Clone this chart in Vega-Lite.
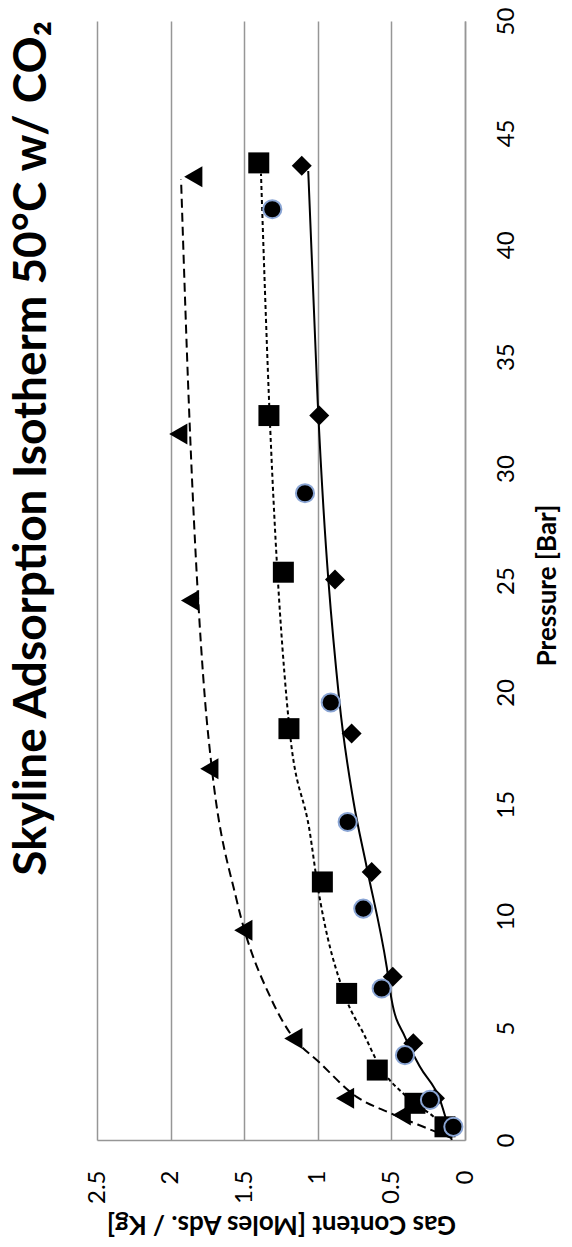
{
  "$schema": "https://vega.github.io/schema/vega-lite/v6.json",
  "width": 368,
  "height": 1119,
  "autosize": {"type": "none"},
  "padding": {"left": 97, "top": 21, "right": 107, "bottom": 107},
  "background": "white",
  "config": {"view": {"stroke": null}, "font": "Lato"},
  "title": {
    "text": "Skyline Adsorption Isotherm 50°C w/ CO₂",
    "orient": "left",
    "anchor": "end",
    "frame": "group",
    "font": "Lato",
    "fontSize": 46,
    "fontWeight": "bold",
    "color": "black",
    "offset": 29
  },
  "datasets": {
    "fit": [
      {"series": "T", "p": 0.09, "g": 0.09},
      {"series": "T", "p": 0.59, "g": 0.283},
      {"series": "T", "p": 1.21, "g": 0.51},
      {"series": "T", "p": 1.93, "g": 0.736},
      {"series": "T", "p": 3.44, "g": 0.985},
      {"series": "T", "p": 4.78, "g": 1.189},
      {"series": "T", "p": 6.25, "g": 1.313},
      {"series": "T", "p": 10.71, "g": 1.551},
      {"series": "T", "p": 16.67, "g": 1.721},
      {"series": "T", "p": 19.64, "g": 1.766},
      {"series": "T", "p": 32.74, "g": 1.875},
      {"series": "T", "p": 42.93, "g": 1.929},
      {"series": "S", "p": 0.09, "g": 0.09},
      {"series": "S", "p": 0.76, "g": 0.17},
      {"series": "S", "p": 1.93, "g": 0.396},
      {"series": "S", "p": 3.27, "g": 0.577},
      {"series": "S", "p": 4.78, "g": 0.691},
      {"series": "S", "p": 6.25, "g": 0.804},
      {"series": "S", "p": 11.61, "g": 1.007},
      {"series": "S", "p": 13.7, "g": 1.053},
      {"series": "S", "p": 18.17, "g": 1.189},
      {"series": "S", "p": 19.64, "g": 1.211},
      {"series": "S", "p": 33.18, "g": 1.332},
      {"series": "S", "p": 43.18, "g": 1.386},
      {"series": "D", "p": 0.0, "g": 0.09},
      {"series": "D", "p": 1.79, "g": 0.17},
      {"series": "D", "p": 3.27, "g": 0.306},
      {"series": "D", "p": 4.61, "g": 0.408},
      {"series": "D", "p": 6.25, "g": 0.498},
      {"series": "D", "p": 7.74, "g": 0.532},
      {"series": "D", "p": 12.2, "g": 0.668},
      {"series": "D", "p": 15.18, "g": 0.759},
      {"series": "D", "p": 19.64, "g": 0.854},
      {"series": "D", "p": 33.04, "g": 1.001},
      {"series": "D", "p": 43.3, "g": 1.065}
    ],
    "obs": [
      {"series": "T", "p": 43.04, "g": 1.846},
      {"series": "T", "p": 31.55, "g": 1.948},
      {"series": "T", "p": 24.11, "g": 1.868},
      {"series": "T", "p": 16.59, "g": 1.737},
      {"series": "T", "p": 9.375, "g": 1.506},
      {"series": "T", "p": 4.54, "g": 1.166},
      {"series": "T", "p": 1.86, "g": 0.815},
      {"series": "T", "p": 1.12, "g": 0.43},
      {"series": "S", "p": 43.66, "g": 1.401},
      {"series": "S", "p": 32.37, "g": 1.332},
      {"series": "S", "p": 25.37, "g": 1.234},
      {"series": "S", "p": 18.38, "g": 1.196},
      {"series": "S", "p": 11.53, "g": 0.969},
      {"series": "S", "p": 6.55, "g": 0.804},
      {"series": "S", "p": 3.125, "g": 0.596},
      {"series": "S", "p": 1.64, "g": 0.34},
      {"series": "S", "p": 0.59, "g": 0.136},
      {"series": "D", "p": 43.53, "g": 1.109},
      {"series": "D", "p": 32.37, "g": 0.99},
      {"series": "D", "p": 25.04, "g": 0.883},
      {"series": "D", "p": 18.16, "g": 0.77},
      {"series": "D", "p": 11.98, "g": 0.634},
      {"series": "D", "p": 7.29, "g": 0.491},
      {"series": "D", "p": 4.32, "g": 0.351},
      {"series": "D", "p": 1.87, "g": 0.204},
      {"series": "D", "p": 0.55, "g": 0.09},
      {"series": "C", "p": 41.59, "g": 1.309},
      {"series": "C", "p": 28.9, "g": 1.087},
      {"series": "C", "p": 19.55, "g": 0.912},
      {"series": "C", "p": 14.21, "g": 0.797},
      {"series": "C", "p": 10.34, "g": 0.691},
      {"series": "C", "p": 6.77, "g": 0.566},
      {"series": "C", "p": 3.79, "g": 0.408},
      {"series": "C", "p": 1.79, "g": 0.238},
      {"series": "C", "p": 0.59, "g": 0.079}
    ]
  },
  "encoding": {
    "x": {
      "field": "g",
      "type": "quantitative",
      "scale": {"domain": [0, 2.5], "reverse": true, "nice": false, "zero": false},
      "axis": {
        "orient": "bottom",
        "values": [0, 0.5, 1, 1.5, 2, 2.5],
        "format": "~g",
        "grid": true,
        "gridColor": "#969696",
        "gridWidth": 1.5,
        "gridOpacity": 1,
        "domain": true,
        "domainColor": "#969696",
        "domainWidth": 1.5,
        "ticks": false,
        "tickSize": 0,
        "labelAngle": 270,
        "labelAlign": "right",
        "labelBaseline": "middle",
        "labelPadding": 30,
        "labelFont": "Lato",
        "labelFontSize": 24,
        "labelColor": "black",
        "labelFlush": false,
        "labelOverlap": false,
        "title": "Gas Content [Moles Ads. / Kg]",
        "titleFont": "Lato",
        "titleFontSize": 26,
        "titleFontWeight": "bold",
        "titleColor": "black",
        "titleAngle": 180,
        "titleAlign": "center",
        "titleBaseline": "alphabetic",
        "titleX": 184,
        "titleY": 75
      }
    },
    "y": {
      "field": "p",
      "type": "quantitative",
      "scale": {"domain": [0, 50], "nice": false, "zero": false},
      "axis": {
        "orient": "right",
        "values": [0, 5, 10, 15, 20, 25, 30, 35, 40, 45, 50],
        "grid": false,
        "domain": true,
        "domainColor": "#969696",
        "domainWidth": 1.5,
        "ticks": false,
        "tickSize": 0,
        "labelAngle": 270,
        "labelAlign": "center",
        "labelBaseline": "top",
        "labelPadding": 29,
        "labelFont": "Lato",
        "labelFontSize": 24,
        "labelColor": "black",
        "labelFlush": false,
        "labelOverlap": false,
        "title": "Pressure [Bar]",
        "titleFont": "Lato",
        "titleFontSize": 26,
        "titleFontWeight": "bold",
        "titleColor": "black",
        "titleAngle": 270,
        "titleAlign": "center",
        "titleBaseline": "alphabetic",
        "titleX": 90,
        "titleY": 564
      }
    }
  },
  "layer": [
    {
      "data": {"name": "fit"},
      "transform": [{"filter": "datum.series === 'T'"}],
      "mark": {"type": "line", "color": "black", "strokeWidth": 2, "strokeDash": [9, 5], "interpolate": "monotone"},
      "encoding": {"order": {"field": "p", "type": "quantitative"}}
    },
    {
      "data": {"name": "fit"},
      "transform": [{"filter": "datum.series === 'S'"}],
      "mark": {"type": "line", "color": "black", "strokeWidth": 2, "strokeDash": [4, 3], "interpolate": "monotone"},
      "encoding": {"order": {"field": "p", "type": "quantitative"}}
    },
    {
      "data": {"name": "fit"},
      "transform": [{"filter": "datum.series === 'D'"}],
      "mark": {"type": "line", "color": "black", "strokeWidth": 2, "interpolate": "monotone"},
      "encoding": {"order": {"field": "p", "type": "quantitative"}}
    },
    {
      "data": {"name": "obs"},
      "transform": [{"filter": "datum.series === 'T'"}],
      "mark": {"type": "point", "shape": "triangle-left", "size": 441, "filled": true, "color": "black", "opacity": 1}
    },
    {
      "data": {"name": "obs"},
      "transform": [{"filter": "datum.series === 'S'"}],
      "mark": {"type": "point", "shape": "square", "size": 441, "filled": true, "color": "black", "opacity": 1}
    },
    {
      "data": {"name": "obs"},
      "transform": [{"filter": "datum.series === 'D'"}],
      "mark": {"type": "point", "shape": "diamond", "size": 400, "filled": true, "color": "black", "opacity": 1}
    },
    {
      "data": {"name": "obs"},
      "transform": [{"filter": "datum.series === 'C'"}],
      "mark": {"type": "point", "shape": "circle", "size": 330, "filled": true, "fill": "black", "stroke": "#8aa5d4", "strokeWidth": 2, "opacity": 1}
    }
  ]
}
